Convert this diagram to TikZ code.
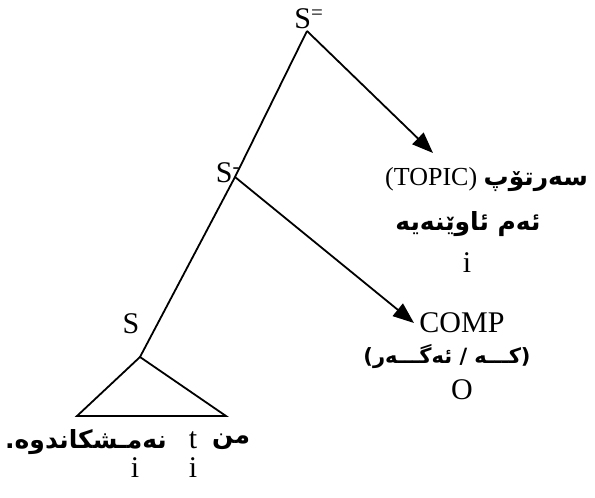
\documentclass[tikz,border=0pt]{standalone}
\usepackage{fontspec}
\setmainfont{Liberation Serif}
\newfontfamily\ku[Script=Arabic]{DejaVu Sans}
\TeXXeTstate=1
\usetikzlibrary{arrows.meta}
\begin{document}
\begin{tikzpicture}[x=1pt,y=-1pt,
  lat/.style={font=\fontsize{30}{34}\selectfont, inner sep=0pt},
  kur/.style={font=\fontsize{25}{30}\selectfont\ku\bfseries, inner sep=0pt},
  edge/.style={line width=1.8pt},
  arr/.style={line width=1.8pt,-{Triangle[length=21pt,width=16pt]}}]
\useasboundingbox (0,0) rectangle (595,498);
% tree points
\coordinate (top) at (307,31);
\coordinate (mid) at (235,177);
\coordinate (low) at (140,357);
\coordinate (tl) at (77,416);
\coordinate (tr) at (226,416);
\coordinate (topicend) at (433,153);
\coordinate (compend) at (414,323);
% labels
\node[lat] (Stop) at (309,19) {S\textsuperscript{=}};
\node[lat] (Smid) at (228,173) {S\textsuperscript{-}};
\node[lat] (Slow) at (131,324) {S};
\node[font=\fontsize{26}{30}\selectfont, inner sep=0pt, anchor=west] (topic) at (385,180) {(TOPIC) {\fontsize{25}{30}\selectfont\ku\bfseries سەرتۆپ}};
\node[kur] (np) at (468,224) {\beginR ئەم ئاوێنەیە\endR};
\node[lat] (i1) at (467,263) {i};
\node[lat] (comp) at (462,323) {COMP};
\node[kur, font=\fontsize{21}{26}\selectfont\ku\bfseries] (compw) at (447,357) {)\beginR کـــە / ئەگـــەر\endR(};
\node[lat] (O) at (462,390) {O};
\node[kur] (min) at (231,442) {من};
\node[lat] (t) at (193,440) {t};
\node[kur, anchor=east] (verb) at (167,442) {\beginR نەمـشکاندوە.\endR};
\node[lat] (i2) at (135,468) {i};
\node[lat] (i3) at (193,468) {i};
% edges
\draw[edge] (top) -- (mid) -- (low);
\draw[arr] (top) -- (topicend);
\draw[arr] (mid) -- (compend);
\draw[edge] (low) -- (tl) -- (tr) -- cycle;
\end{tikzpicture}
\end{document}
